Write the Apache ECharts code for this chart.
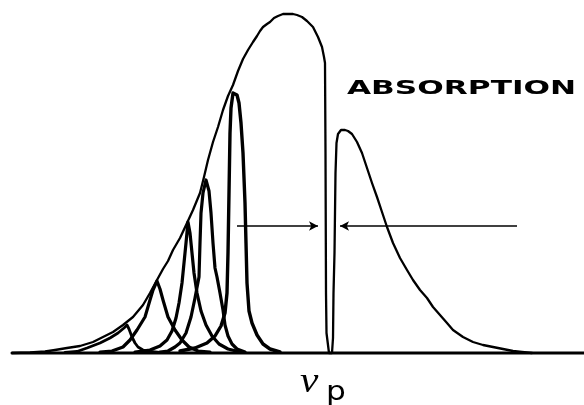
<!DOCTYPE html>
<html>
<head>
<meta charset="utf-8">
<script src="https://cdn.jsdelivr.net/npm/echarts@6/dist/echarts.min.js"></script>
<style>html,body{margin:0;padding:0;background:#fff}#c{width:584px;height:405px}</style>
</head>
<body>
<div id="c"></div>
<script>
// Frequency (x) vs intensity above the baseline (y), arbitrary units
const envelope = [
 [12,0],[30,0.5],[45,1.5],[55,3],[67,5],[80,7],[93,11],[103,16],[113,21],[123,28],[133,36],[143,48],[150,60],
 [157,73],[163,84],[168,92],[173,103],[180,115],[187,130],[193,143],[200,160],[204,176],[208,193],[213,211],
 [218,226],[223,243],[228,257],[233,268],[238,282],[243,294],[248,303],[253,311],[257,317],[260,322],[263,326],[267,329],[270,331],
 [274,335],[278,337],[283,339],[288,339],[293,339],[297,338],[302,336],[307,332],[313,326],[318,316],[322,306],[324,296],[325,290],[325.5,200],[326,60],
 [326.5,20],[329,0],[332,0],[333,15],[333.5,60],[334.5,100],[335.5,180],[336.5,210],[338,219],[341,223],[345,223],
 [348,222],[352,219],[357,211],[362,200],[367,185],[372,170],[377,156],[382,141],[387,126],[393,110],[400,95],
 [407,83],[413,73],[420,63],[427,55],[433,46],[440,38],[447,30],[453,23],[463,16],[473,11],[483,8],[493,6],
 [503,4],[513,2],[522,1],[532,0]
];
const peak1 = [[65,0.5],[77,1.5],[87,5],[100,10],[110,15],[118,20],[124,25],[127,28],[129,24],[132,16],[135,10],[138,6],[143,3],[150,1.5],[160,0.5]];
const peak2 = [[100,1],[112,2],[123,6],[130,13],[137,23],[145,36],[150,53],[153,63],[157,72],[160,64],[163,53],[168,36],[175,23],[182,13],[189,6],[198,2],[210,1]];
const peak3 = [[135,1],[150,3],[160,7],[167,13],[172,22],[176,35],[179,50],[182,70],[184,90],[186,110],[188,131],[190,120],[192,100],[194,80],[197,60],[201,42],[206,28],[212,17],[219,9],[228,4],[240,1]];
const peak4 = [[160,1],[168,2],[175,6],[180,10],[186,20],[191,36],[195,55],[199,76],[200,110],[201,140],[203,160],[206,173],[209,162],[211,140],[213,110],[215,85],[217,76],[220,60],[223,43],[225,28],[228,17],[232,9],[237,4],[245,1]];
const peak5 = [[180,2],[195,5],[207,10],[215,17],[221,27],[225,40],[227,60],[228,100],[229,160],[230,220],[231,245],[233,260],[235,262],[237,258],[239,250],[241,230],[243,200],[245,150],[246,110],[247,70],[249,42],[252,30],[257,18],[263,9],[270,4],[280,1]];
const baseline = [[12,0],[584,0]];
const widthLevel = 127;
const widthLeft = [237, 318];
const widthRight = [517, 340];

const chart = echarts.init(document.getElementById('c'), null, {renderer:'canvas'});
const lineS = (data, w) => ({type:'line', data, symbol:'none', clip:false, silent:true,
  lineStyle:{color:'#000', width:w, join:'round', cap:'round'}});
chart.setOption({
  animation:false,
  backgroundColor:'#fff',
  grid:{left:0, right:0, top:0, bottom:52},
  xAxis:{type:'value', min:0, max:584, show:false},
  yAxis:{type:'value', min:0, max:353, show:false},
  series:[
    lineS(baseline, 3),
    lineS(envelope, 2.3),
    lineS(peak1, 2.8),
    lineS(peak2, 3.2),
    lineS(peak3, 3.2),
    lineS(peak4, 3.2),
    lineS(peak5, 3.4),
    {type:'line', data:[], symbol:'none', silent:true,
     markLine:{silent:true, animation:false, symbolSize:[7,9], label:{show:false},
       lineStyle:{color:'#000', width:1.5, type:'solid'},
       data:[
         [{coord:[widthLeft[0],widthLevel], symbol:'none'},{coord:[widthLeft[1],widthLevel], symbol:'arrow'}],
         [{coord:[widthRight[0],widthLevel], symbol:'none'},{coord:[widthRight[1],widthLevel], symbol:'arrow'}]
       ]}}
  ],
  graphic:[
    {type:'text', x:347, y:80, scaleX:1.64, style:{text:'ABSORPTION', font:'bold 19px "DejaVu Sans"', fill:'#000', textVerticalAlign:'top'}},
    {type:'text', x:300, y:383, scaleX:1.15, style:{text:'ν', font:'italic 36px "Liberation Serif"', fill:'#000', textVerticalAlign:'middle'}},
    {type:'text', x:326, y:393, scaleX:1.2, style:{text:'p', font:'26px "DejaVu Sans"', fill:'#000', textVerticalAlign:'middle'}}
  ]
});
</script>
</body>
</html>
